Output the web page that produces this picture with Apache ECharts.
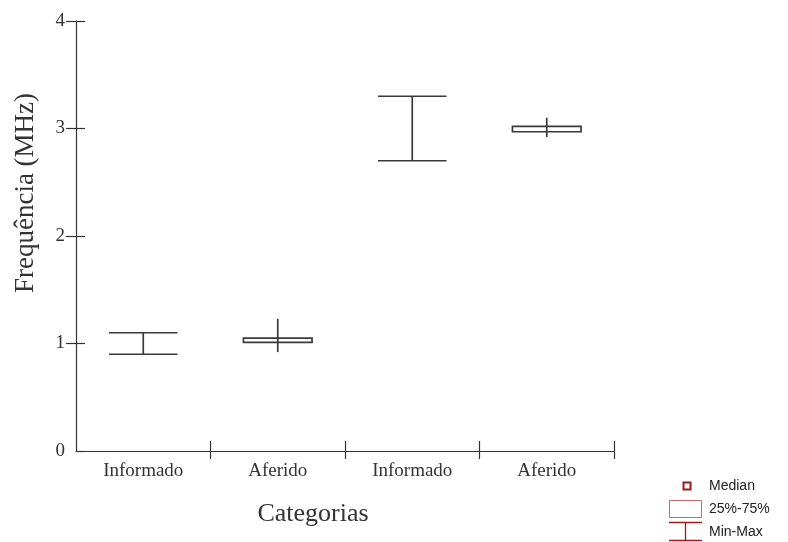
<!DOCTYPE html>
<html>
<head>
<meta charset="utf-8">
<script src="https://cdn.jsdelivr.net/npm/echarts@6/dist/echarts.min.js"></script>
<style>
  html, body { margin: 0; padding: 0; background: #fff; }
  #chart { width: 788px; height: 542px; }
</style>
</head>
<body>
<div id="chart"></div>
<script>
// Categories along the x axis
const categories = ['Informado', 'Aferido', 'Informado', 'Aferido'];
// Min-Max range per category (MHz)
const minValues = [0.9, 0.92, 2.7, 2.92];
const maxValues = [1.1, 1.23, 3.3, 3.1];
// 25%-75% box per category (null where no box is drawn)
const q1Values = [null, 1.01, null, 2.97];
const q3Values = [null, 1.05, null, 3.02];
// Y axis tick values
const yTicks = [0, 1, 2, 3, 4];
// Boundaries between category bands that carry a tick mark
const bandEdges = [1, 2, 3, 4];

const serif = '"Liberation Serif", "DejaVu Serif", serif';
const sans = '"Liberation Sans", Arial, sans-serif';
const axisColor = '#333';
const markColor = '#3a3a3a';

const boxData = categories.map((c, i) => [i, minValues[i], q1Values[i], q3Values[i], maxValues[i]]);

function renderBox(params, api) {
  const idx = api.value(0);
  const lo = api.coord([idx, api.value(1)]);
  const hi = api.coord([idx, api.value(4)]);
  const band = api.size([1, 0])[0];
  const half = band * 0.255;
  const x = lo[0];
  const children = [];
  const lineStyle = { stroke: markColor, lineWidth: 1.7 };
  children.push({ type: 'line', shape: { x1: x, y1: lo[1], x2: x, y2: hi[1] }, style: lineStyle });
  const q1 = q1Values[params.dataIndex];
  const q3 = q3Values[params.dataIndex];
  if (q1 == null || q3 == null) {
    children.push({ type: 'line', shape: { x1: x - half, y1: lo[1], x2: x + half, y2: lo[1] }, style: lineStyle });
    children.push({ type: 'line', shape: { x1: x - half, y1: hi[1], x2: x + half, y2: hi[1] }, style: lineStyle });
  } else {
    const b = api.coord([idx, q1]);
    const t = api.coord([idx, q3]);
    children.push({
      type: 'rect',
      shape: { x: x - half, y: t[1], width: half * 2, height: b[1] - t[1] },
      style: { fill: 'none', stroke: markColor, lineWidth: 1.7 }
    });
  }
  return { type: 'group', children: children };
}

const hiddenLabel = { show: false };
const tickLine = { color: axisColor, width: 1.2 };

const chart = echarts.init(document.getElementById('chart'));
chart.setOption({
  animation: false,
  backgroundColor: '#fff',
  grid: { left: 76, right: 174, top: 21, bottom: 91, outerBoundsMode: 'none', containLabel: false },
  xAxis: [
    {
      type: 'category',
      data: categories,
      boundaryGap: true,
      axisLine: { lineStyle: { color: axisColor, width: 1.2 } },
      axisTick: { show: false },
      axisLabel: { interval: 0, color: '#333', fontFamily: serif, fontSize: 19, margin: 11 },
      splitLine: { show: false }
    },
    {
      type: 'value', min: 0, max: categories.length, position: 'bottom',
      axisLine: { show: false },
      axisTick: { show: true, inside: true, length: 10, customValues: bandEdges, lineStyle: tickLine },
      axisLabel: hiddenLabel, splitLine: { show: false }
    },
    {
      type: 'value', min: 0, max: categories.length, position: 'bottom',
      axisLine: { show: false },
      axisTick: { show: true, inside: false, length: 8, customValues: bandEdges, lineStyle: tickLine },
      axisLabel: hiddenLabel, splitLine: { show: false }
    }
  ],
  yAxis: [
    {
      type: 'value',
      min: yTicks[0],
      max: yTicks[yTicks.length - 1],
      interval: 1,
      name: 'Frequência (MHz)',
      nameLocation: 'middle',
      nameGap: 37,
      nameTextStyle: { fontFamily: serif, fontSize: 27, color: '#333', padding: [0, 0, 0, 86] },
      axisLine: { show: true, lineStyle: { color: axisColor, width: 1.2 } },
      axisTick: { show: true, inside: true, length: 9, lineStyle: tickLine },
      axisLabel: { color: '#333', fontFamily: serif, fontSize: 19, margin: 11 },
      splitLine: { show: false }
    },
    {
      type: 'value', min: yTicks[0], max: yTicks[yTicks.length - 1], position: 'left',
      axisLine: { show: false },
      axisTick: { show: true, inside: false, length: 10, customValues: yTicks.slice(1), lineStyle: tickLine },
      axisLabel: hiddenLabel, splitLine: { show: false }
    }
  ],
  series: [{
    type: 'custom',
    xAxisIndex: 0,
    yAxisIndex: 0,
    renderItem: renderBox,
    encode: { x: 0, y: [1, 4] },
    data: boxData
  }],
  graphic: [
    { type: 'text', x: 313, y: 514, style: { text: 'Categorias', font: '26px ' + serif, fill: '#333', align: 'center', verticalAlign: 'middle' } },
    // legend
    { type: 'rect', shape: { x: 683.5, y: 482.5, width: 7, height: 7 }, style: { fill: '#fff', stroke: '#9b1a1a', lineWidth: 2 } },
    { type: 'text', x: 709, y: 486, style: { text: 'Median', font: '14px ' + sans, fill: '#222', verticalAlign: 'middle' } },
    { type: 'rect', shape: { x: 669.5, y: 500.5, width: 32, height: 17 }, style: { fill: '#fff', stroke: '#c46a6a', lineWidth: 1 } },
    { type: 'text', x: 709, y: 509, style: { text: '25%-75%', font: '14px ' + sans, fill: '#222', verticalAlign: 'middle' } },
    { type: 'line', shape: { x1: 669, y1: 522.5, x2: 702, y2: 522.5 }, style: { stroke: '#a01a1a', lineWidth: 1.3 } },
    { type: 'line', shape: { x1: 685.5, y1: 522, x2: 685.5, y2: 541 }, style: { stroke: '#a01a1a', lineWidth: 1.3 } },
    { type: 'line', shape: { x1: 669, y1: 540.5, x2: 702, y2: 540.5 }, style: { stroke: '#a01a1a', lineWidth: 1.3 } },
    { type: 'text', x: 709, y: 532, style: { text: 'Min-Max', font: '14px ' + sans, fill: '#222', verticalAlign: 'middle' } }
  ]
});
</script>
</body>
</html>
